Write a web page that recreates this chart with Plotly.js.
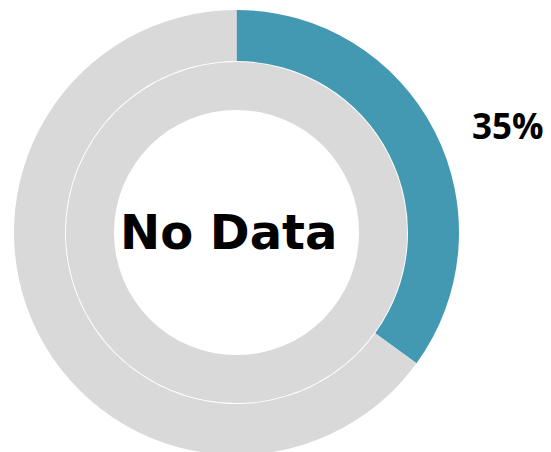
<!DOCTYPE html>
<html>
<head>
<meta charset="utf-8">
<script src="https://cdn.plot.ly/plotly-3.0.1.min.js"></script>
<style>
html,body{margin:0;padding:0;overflow:hidden;background:#fff;}
#chart{width:551px;height:465px;}
</style>
</head>
<body>
<div id="chart"></div>
<script>
// Data
var outerLabels = ["Complete", "Remaining"];
var outerValues = [35, 65];
var innerLabels = ["No Data"];
var innerValues = [100];
var outerColors = ["#4399b2", "#d9d9d9"];
var innerColors = ["#d9d9d9"];
var pctLabel = "35%";
var centerLabel = "No Data";

var W = 551, H = 465;
function fx(px){ return px / W; }
function fy(pxFromTop){ return (H - pxFromTop) / H; }

var outer = {
  type: "pie",
  labels: outerLabels,
  values: outerValues,
  sort: false,
  direction: "clockwise",
  rotation: 0,
  hole: 171.5 / 222.5,
  textinfo: "none",
  hoverinfo: "none",
  marker: {colors: outerColors, line: {width: 0}},
  domain: {x: [fx(14), fx(459)], y: [fy(455), fy(10)]},
  showlegend: false
};
var inner = {
  type: "pie",
  labels: innerLabels,
  values: innerValues,
  sort: false,
  direction: "clockwise",
  hole: 122.5 / 170.6,
  textinfo: "none",
  hoverinfo: "none",
  marker: {colors: innerColors, line: {width: 0}},
  domain: {x: [fx(236.5 - 170.6), fx(236.5 + 170.6)], y: [fy(232.5 + 170.6), fy(232.5 - 170.6)]},
  showlegend: false
};

var layout = {
  width: W, height: H,
  margin: {l: 0, r: 0, t: 0, b: 0},
  paper_bgcolor: "#ffffff",
  plot_bgcolor: "#ffffff",
  showlegend: false,
  annotations: [
    {text: "<b>" + centerLabel + "</b>", xref: "paper", yref: "paper",
     x: fx(228.5), y: fy(232), xanchor: "center", yanchor: "middle", showarrow: false,
     font: {family: "'DejaVu Sans', sans-serif", size: 48, color: "#000000"}},
    {text: "<b>" + pctLabel + "</b>", xref: "paper", yref: "paper",
     x: fx(508), y: fy(125.5), xanchor: "center", yanchor: "middle", showarrow: false,
     font: {family: "'Open Sans', sans-serif", size: 35, color: "#000000"}}
  ]
};

Plotly.newPlot("chart", [outer, inner], layout, {displayModeBar: false, staticPlot: true});
</script>
</body>
</html>
